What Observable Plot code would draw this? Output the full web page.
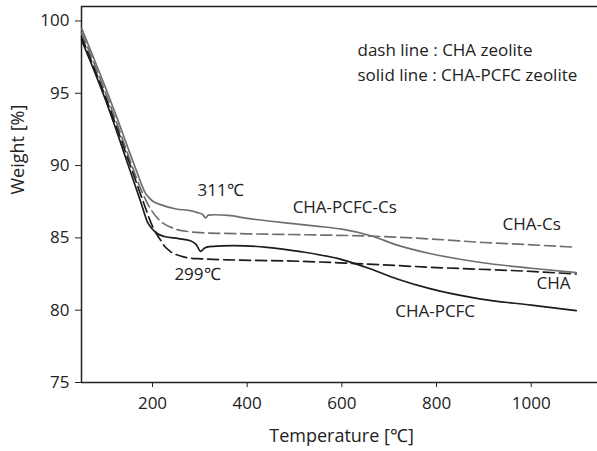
<!DOCTYPE html>
<html>
<head>
<meta charset="utf-8">
<script src="https://cdn.jsdelivr.net/npm/d3@7"></script>
<script src="https://cdn.jsdelivr.net/npm/@observablehq/plot@0.6"></script>
<style>
  html, body { margin: 0; padding: 0; background: white; }
</style>
</head>
<body>
<div id="chart"></div>
<script>
const xTicks = [200, 400, 600, 800, 1000];
const yTicks = [75, 80, 85, 90, 95, 100];

// CHA-PCFC-Cs (solid gray)
const pcfcCsT = [50, 75, 100, 125, 150, 170, 178, 185, 192, 200, 217, 250, 280, 295, 306, 312, 318, 330, 360, 400, 450, 492, 550, 600, 661, 717, 788, 894, 1000, 1095];
const pcfcCsW = [99.5, 97.5, 95.45, 93.3, 91.05, 89.3, 88.6, 88.1, 87.8, 87.55, 87.3, 87.0, 86.88, 86.75, 86.62, 86.38, 86.58, 86.6, 86.55, 86.35, 86.15, 86.0, 85.8, 85.6, 85.15, 84.5, 83.9, 83.3, 82.9, 82.6];

// CHA-Cs (dashed gray)
const chaCsT = [50, 75, 100, 125, 150, 175, 189, 200, 217, 245, 280, 300, 400, 513, 661, 800, 900, 1000, 1095];
const chaCsW = [99.2, 97.2, 95.1, 92.9, 90.6, 88.4, 87.4, 86.8, 86.15, 85.65, 85.42, 85.36, 85.28, 85.22, 85.12, 84.9, 84.68, 84.52, 84.35];

// CHA-PCFC (solid black)
const pcfcT = [50, 75, 100, 125, 150, 175, 190, 200, 210, 225, 255, 280, 292, 302, 310, 320, 372, 442, 513, 600, 661, 717, 788, 894, 1000, 1095];
const pcfcW = [98.7, 96.7, 94.6, 92.3, 89.9, 87.5, 86.05, 85.6, 85.3, 85.1, 84.95, 84.8, 84.55, 84.07, 84.3, 84.4, 84.47, 84.35, 84.05, 83.5, 82.85, 82.16, 81.47, 80.77, 80.35, 79.97];

// CHA (dashed black)
const chaT = [50, 75, 100, 125, 150, 181, 200, 210, 217, 226, 238, 259, 280, 302, 373, 513, 612, 800, 1000, 1095];
const chaW = [98.9, 96.9, 94.8, 92.6, 90.3, 87.45, 85.8, 85.2, 84.85, 84.4, 84.05, 83.75, 83.6, 83.55, 83.47, 83.38, 83.25, 82.95, 82.68, 82.5];

// annotation labels
const labelText = ["311℃", "299℃", "CHA-PCFC-Cs", "CHA-Cs", "CHA", "CHA-PCFC"];
const labelX = [344, 295, 606, 1001, 1047, 797];
const labelY = [88.26, 82.46, 87.1, 85.9, 81.87, 79.93];

const legendText = ["dash line : CHA zeolite", "solid line : CHA-PCFC zeolite"];
const legendX = [633, 633];
const legendY = [97.97, 96.24];

const xTitle = "Temperature [℃]";
const yTitle = "Weight [%]";

const toRows = (T, W, name) => T.map((t, i) => ({t, w: W[i], name}));

const gray = "#6f6f6f";
const black = "#1c1c1c";
const ink = "#222";

const chart = Plot.plot({
  width: 597,
  height: 451,
  marginLeft: 81,
  marginRight: 0,
  marginTop: 6,
  marginBottom: 69,
  x: {domain: [50, 1140]},
  y: {domain: [75, 101]},
  style: {fontFamily: "Open Sans", fontSize: "17px", color: ink, background: "white"},
  marks: [
    Plot.axisX({ticks: xTicks, tickSize: 5, tickPadding: 9, tickFormat: "d", label: null, stroke: ink}),
    Plot.axisY({ticks: yTicks, tickSize: 6, tickPadding: 6, tickFormat: "d", label: null, stroke: ink}),
    Plot.ruleY([75], {stroke: ink, strokeWidth: 1.5}),
    Plot.ruleY([101], {stroke: ink, strokeWidth: 1.5}),
    Plot.ruleX([50], {stroke: ink, strokeWidth: 1.5}),
    Plot.line(toRows(chaCsT, chaCsW, "CHA-Cs"), {x: "t", y: "w", stroke: gray, strokeWidth: 1.7, strokeDasharray: "11,5", curve: "monotone-x"}),
    Plot.line(toRows(chaT, chaW, "CHA"), {x: "t", y: "w", stroke: black, strokeWidth: 1.7, strokeDasharray: "11,5", curve: "monotone-x"}),
    Plot.line(toRows(pcfcCsT, pcfcCsW, "CHA-PCFC-Cs"), {x: "t", y: "w", stroke: gray, strokeWidth: 1.7, curve: "monotone-x"}),
    Plot.line(toRows(pcfcT, pcfcW, "CHA-PCFC"), {x: "t", y: "w", stroke: black, strokeWidth: 1.7, curve: "monotone-x"}),
    Plot.text(labelText, {x: (d, i) => labelX[i], y: (d, i) => labelY[i], text: d => d, textAnchor: "middle", lineAnchor: "middle", fill: ink, fontSize: 17}),
    Plot.text(legendText, {x: (d, i) => legendX[i], y: (d, i) => legendY[i], text: d => d, textAnchor: "start", lineAnchor: "middle", fill: ink, fontSize: 17}),
    Plot.text([xTitle], {frameAnchor: "bottom", text: d => d, dy: 59, dx: 2, lineAnchor: "bottom", fill: ink, fontSize: 18}),
    Plot.text([yTitle], {frameAnchor: "left", text: d => d, dx: -63, rotate: -90, lineAnchor: "middle", fill: ink, fontSize: 18})
  ]
});
document.getElementById("chart").appendChild(chart);
</script>
</body>
</html>
